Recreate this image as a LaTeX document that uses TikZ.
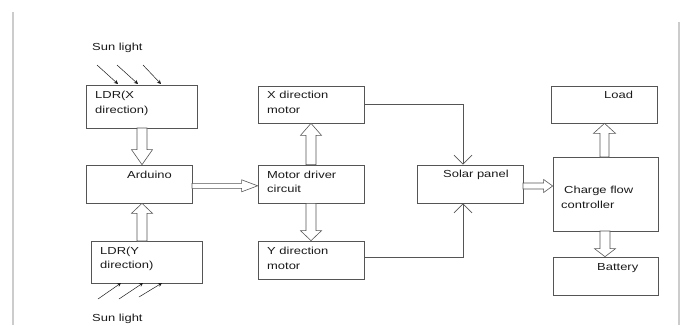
\documentclass[tikz,border=0pt]{standalone}
\usepackage{fontspec}
\setmainfont{Liberation Sans}[FakeStretch=1.27]
\usetikzlibrary{calc,arrows.meta}
\definecolor{edge}{HTML}{555555}
\definecolor{ink}{HTML}{1A1A1A}
\definecolor{rulegrey}{HTML}{CCCCCC}
\tikzset{
  box/.style={draw=edge, line width=0.7pt, rectangle, inner sep=0pt},
  txt/.style={text=ink, inner sep=0pt, anchor=west, align=left, font=\fontsize{10.2}{14.5}\selectfont},
  hollow/.style n args={3}{draw=edge, line width=0.6pt, fill=white,
    to path={let \p1=($(\tikztotarget)-(\tikztostart)$), \n1={atan2(\y1,\x1)} in
      ($(\tikztostart)+(\n1+90:#1pt)$)
      -- ($(\tikztotarget)+(\n1:-#3pt)+(\n1+90:#1pt)$)
      -- ($(\tikztotarget)+(\n1:-#3pt)+(\n1+90:#2pt)$)
      -- (\tikztotarget)
      -- ($(\tikztotarget)+(\n1:-#3pt)+(\n1-90:#2pt)$)
      -- ($(\tikztotarget)+(\n1:-#3pt)+(\n1-90:#1pt)$)
      -- ($(\tikztostart)+(\n1-90:#1pt)$) -- cycle}},
  sunray/.style={draw=ink, line width=0.5pt, -{Stealth[length=4pt,width=4pt]}},
  feed/.style={draw=edge, line width=0.7pt, -{Straight Barb[length=9pt,width=18pt]}}
}
\begin{document}
\begin{tikzpicture}[x=1pt,y=-1pt]
\useasboundingbox (0,0) rectangle (683,325);
% page rules
\draw[rulegrey, line width=2.5pt] (13,12) -- (13,325);
\draw[rulegrey, line width=2pt] (679,22) -- (679,325);
% boxes
\node[box, minimum width=111pt, minimum height=43pt] (ldrx) at (141.5,106.5) {};
\node[box, minimum width=106pt, minimum height=38pt] (ard) at (139,184) {};
\node[box, minimum width=111pt, minimum height=42pt] (ldry) at (146.5,262) {};
\node[box, minimum width=106pt, minimum height=37pt] (xm) at (311,104.5) {};
\node[box, minimum width=106pt, minimum height=38pt] (drv) at (311,184) {};
\node[box, minimum width=106pt, minimum height=38pt] (ym) at (311,260) {};
\node[box, minimum width=106pt, minimum height=38pt] (sol) at (470,184) {};
\node[box, minimum width=106pt, minimum height=37pt] (load) at (604,104.5) {};
\node[box, minimum width=105pt, minimum height=74pt] (cfc) at (605.5,194) {};
\node[box, minimum width=105pt, minimum height=38pt] (bat) at (605.5,276) {};
% texts
\node[txt] (tsun1) at (92,48) {Sun light};
\node[txt] (tldrx) at (95,103.5) {LDR(X\\direction)};
\node[txt] (tard) at (127,175) {Arduino};
\node[txt] (tldry) at (100,259) {LDR(Y\\direction)};
\node[txt] (txm) at (267,102.5) {X direction\\motor};
\node[txt] (tdrv) at (267,182) {Motor driver\\circuit};
\node[txt] (tym) at (267,258.5) {Y direction\\motor};
\node[txt] (tsol) at (443,175) {Solar panel};
\node[txt] (tload) at (604,95) {Load};
\node[txt] (tcfc) at (561,197.5) {\hspace*{3pt}Charge flow\\controller};
\node[txt] (tbat) at (597,268) {Battery};
\node[txt] (tsun2) at (92,319) {Sun light};
% hollow arrows
\coordinate (c1) at (142,128);
\coordinate (c2) at (142,241);
\coordinate (c3) at (192,185.8);
\coordinate (c4) at (523,186);
\coordinate (c5) at (604.5,157);
\coordinate (c6) at (605,231);
\draw[hollow={5}{10.5}{15}] (c1) to (c1 |- ard.north);
\draw[hollow={5}{10.5}{10}] (c2) to (c2 |- ard.south);
\draw[hollow={2.5}{6}{16}] (c3) to (c3 -| drv.west);
\draw[hollow={5}{10.5}{12}] (drv.north) to (xm.south);
\draw[hollow={5}{10.5}{10}] (drv.south) to (ym.north);
\draw[hollow={3}{6.5}{9}] (c4) to (c4 -| cfc.west);
\draw[hollow={4.5}{11}{10}] (c5) to (c5 |- load.south);
\draw[hollow={5}{10.5}{8}] (c6) to (c6 |- bat.north);
% motor to solar panel
\coordinate (xs) at (463,0);
\draw[feed] (xm.east) -| (xs |- sol.north);
\draw[feed] ($(ym.east)+(0,-3)$) -| (xs |- sol.south);
% sun rays
\coordinate (r1a) at (97,65);  \coordinate (r1b) at (118,84);
\coordinate (r2a) at (117,65); \coordinate (r2b) at (138,84);
\coordinate (r3a) at (143,65); \coordinate (r3b) at (161,84);
\coordinate (r4a) at (98,299);  \coordinate (r4b) at (121,283);
\coordinate (r5a) at (119,299); \coordinate (r5b) at (143,283);
\coordinate (r6a) at (139,297); \coordinate (r6b) at (162,283);
\draw[sunray] (r1a) -- (r1b);
\draw[sunray] (r2a) -- (r2b);
\draw[sunray] (r3a) -- (r3b);
\draw[sunray] (r4a) -- (r4b);
\draw[sunray] (r5a) -- (r5b);
\draw[sunray] (r6a) -- (r6b);
\end{tikzpicture}
\end{document}
